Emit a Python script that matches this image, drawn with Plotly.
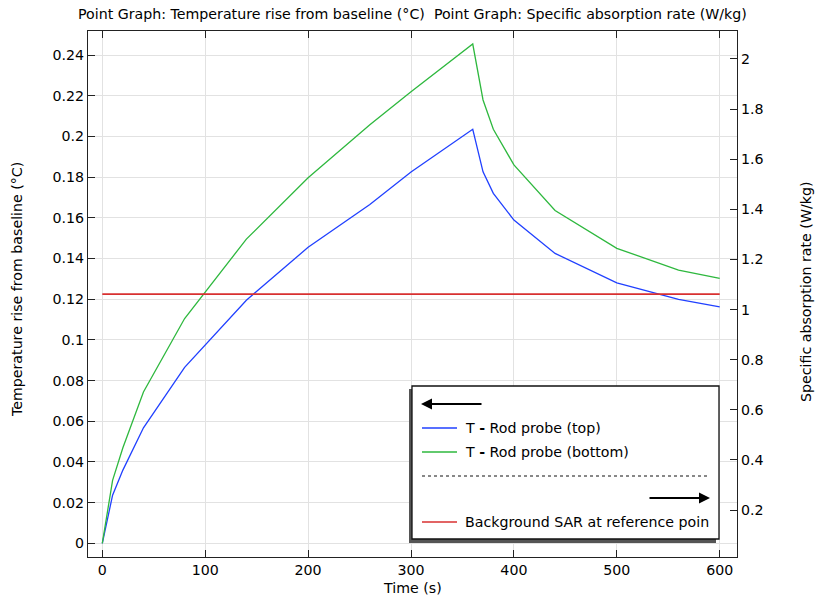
import plotly.graph_objects as go

# ---------------- data ----------------
time_s = [0, 10, 20, 40, 80, 140, 200, 260, 300, 360, 370, 380, 400, 440, 500, 560, 600]
t_rod_top = [0, 0.0237, 0.036, 0.0568, 0.0865, 0.1195, 0.1455, 0.1665, 0.1825, 0.2035,
             0.1826, 0.172, 0.1589, 0.1425, 0.128, 0.1199, 0.1162]
t_rod_bottom = [0, 0.031, 0.047, 0.0744, 0.1105, 0.1495, 0.1797, 0.2057, 0.222, 0.2454,
                0.2179, 0.2035, 0.186, 0.1636, 0.145, 0.1343, 0.1302]
sar_time = [0, 600]
sar_background = [1.062, 1.062]

x_ticks = [0, 100, 200, 300, 400, 500, 600]
x_tick_labels = ["0", "100", "200", "300", "400", "500", "600"]
y_ticks = [0, 0.02, 0.04, 0.06, 0.08, 0.1, 0.12, 0.14, 0.16, 0.18, 0.2, 0.22, 0.24]
y_tick_labels = ["0", "0.02", "0.04", "0.06", "0.08", "0.1", "0.12", "0.14", "0.16",
                 "0.18", "0.2", "0.22", "0.24"]
y2_ticks = [0.2, 0.4, 0.6, 0.8, 1.0, 1.2, 1.4, 1.6, 1.8, 2.0]
y2_tick_labels = ["0.2", "0.4", "0.6", "0.8", "1", "1.2", "1.4", "1.6", "1.8", "2"]

title_text = "Point Graph: Temperature rise from baseline (°C)  Point Graph: Specific absorption rate (W/kg)"
x_title = "Time (s)"
y_title = "Temperature rise from baseline (°C)"
y2_title = "Specific absorption rate (W/kg)"
legend_top = "T <b>-</b> Rod probe (top)"
legend_bottom = "T <b>-</b> Rod probe (bottom)"
legend_sar = "Background SAR at reference poin"

BLUE = "#2040ff"
GREEN = "#2eb83e"
RED = "#d83030"
FONT = "DejaVu Sans"
FS = 14.2
AX = "#222222"

# ---------------- geometry (pixels) ----------------
W, H = 815, 600
L, R, T, B = 88, 737, 31, 557
PW, PH = R - L, B - T


def px(x):
    return (x - L) / PW


def py(y):
    return (B - y) / PH


fig = go.Figure()
fig.add_trace(go.Scatter(x=time_s, y=t_rod_top, mode="lines",
                         line=dict(color=BLUE, width=1.3), showlegend=False))
fig.add_trace(go.Scatter(x=time_s, y=t_rod_bottom, mode="lines",
                         line=dict(color=GREEN, width=1.3), showlegend=False))
fig.add_trace(go.Scatter(x=sar_time, y=sar_background, mode="lines", yaxis="y2",
                         line=dict(color=RED, width=1.8), showlegend=False))

axis_common = dict(showline=True, linecolor=AX, linewidth=1.3, ticks="inside",
                   ticklen=7, tickcolor=AX, tickwidth=1.2, zeroline=False,
                   automargin=False,
                   tickfont=dict(family=FONT, size=FS, color="black"))

fig.update_layout(
    width=W, height=H,
    margin=dict(l=L, r=W - R, t=T, b=H - B, pad=0),
    paper_bgcolor="white", plot_bgcolor="white",
    font=dict(family=FONT, size=FS, color="black"),
    showlegend=False,
    xaxis=dict(range=[-13.9, 616.8], tickvals=x_ticks, ticktext=x_tick_labels,
               showgrid=True, gridcolor="#e2e2e2", gridwidth=1, mirror="ticks",
               **axis_common),
    yaxis=dict(range=[-0.0067, 0.2518], tickvals=y_ticks, ticktext=y_tick_labels,
               showgrid=True, gridcolor="#e2e2e2", gridwidth=1, mirror=False,
               **axis_common),
    yaxis2=dict(range=[0.0125, 2.1117], tickvals=y2_ticks, ticktext=y2_tick_labels,
                overlaying="y", side="right", showgrid=False, anchor="x",
                **axis_common),
)

ann = []
ann.append(dict(text=title_text, xref="paper", yref="paper", x=px(412.5), y=py(14),
                xanchor="center", yanchor="middle", showarrow=False,
                font=dict(family=FONT, size=FS)))
ann.append(dict(text=x_title, xref="paper", yref="paper", x=px(412.5), y=py(588),
                xanchor="center", yanchor="middle", showarrow=False,
                font=dict(family=FONT, size=FS)))
ann.append(dict(text=y_title, xref="paper", yref="paper", x=px(17), y=py(290),
                xanchor="center", yanchor="middle", showarrow=False, textangle=-90,
                font=dict(family=FONT, size=FS)))
ann.append(dict(text=y2_title, xref="paper", yref="paper", x=px(806), y=py(292),
                xanchor="center", yanchor="middle", showarrow=False, textangle=-90,
                font=dict(family=FONT, size=FS)))

shapes = []
# legend box with shadow
shapes.append(dict(type="rect", xref="paper", yref="paper",
                   x0=px(409), x1=px(716), y0=py(389), y1=py(543),
                   fillcolor="#555555", line=dict(width=0)))
shapes.append(dict(type="rect", xref="paper", yref="paper",
                   x0=px(412), x1=px(719), y0=py(386), y1=py(539),
                   fillcolor="white", line=dict(color="#111111", width=1.3)))
# legend sample lines
for yy, col, w in [(428, BLUE, 1.3), (452, GREEN, 1.3), (522, RED, 1.5)]:
    shapes.append(dict(type="line", xref="paper", yref="paper",
                       x0=px(422), x1=px(457), y0=py(yy), y1=py(yy),
                       line=dict(color=col, width=w)))
# dotted separator
shapes.append(dict(type="line", xref="paper", yref="paper",
                   x0=px(422), x1=px(710), y0=py(476), y1=py(476),
                   line=dict(color="#111111", width=1, dash="dot")))

for yy, txt in [(428, legend_top), (452, legend_bottom), (522, legend_sar)]:
    ann.append(dict(text=txt, xref="paper", yref="paper", x=px(463), y=py(yy),
                    xanchor="left", yanchor="middle", showarrow=False,
                    font=dict(family=FONT, size=FS)))

# arrows in legend
ann.append(dict(text="", xref="paper", yref="paper", x=px(421), y=py(404),
                ax=62, ay=0, showarrow=True, arrowhead=2, arrowsize=1.1,
                arrowwidth=2, arrowcolor="black"))
ann.append(dict(text="", xref="paper", yref="paper", x=px(710), y=py(498),
                ax=-62, ay=0, showarrow=True, arrowhead=2, arrowsize=1.1,
                arrowwidth=2, arrowcolor="black"))

fig.update_layout(annotations=ann, shapes=shapes)
fig.write_html("out.html", config={"displayModeBar": False},
               post_script="document.body.style.margin='0';document.body.style.overflow='hidden';")
